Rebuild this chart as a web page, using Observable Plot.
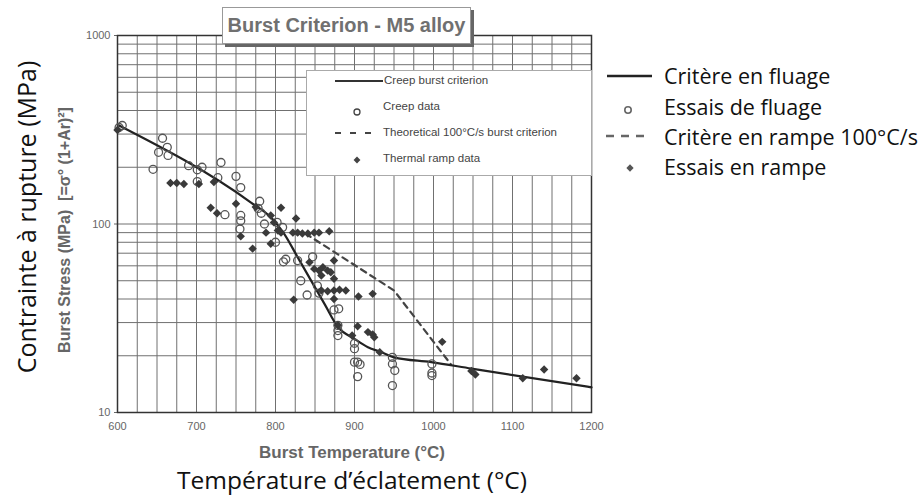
<!DOCTYPE html>
<html><head><meta charset="utf-8">
<script src="https://cdn.jsdelivr.net/npm/d3@7"></script>
<script src="https://cdn.jsdelivr.net/npm/@observablehq/plot@0.6"></script>
<style>
body{margin:0;background:#fff;}
#wrap{position:relative;width:922px;height:497px;overflow:hidden;font-family:"Liberation Sans",Arial,sans-serif;background:#fff;}
#chart{position:absolute;left:0;top:0;}
#overlay{position:absolute;left:0;top:0;}
.abs{position:absolute;white-space:nowrap;line-height:1;}
.box{position:absolute;background:#fff;}
.en{color:#444;font-size:11.5px;}
.fr{font-family:"Open Sans",sans-serif;font-size:21.5px;color:#111;}
</style></head><body>
<div id="wrap">
  <div id="chart"></div>
  <div class="box" style="left:306px;top:70px;width:284px;height:104px;border:1px solid #aaa;"></div>
  <div class="box" style="left:222px;top:7px;width:247px;height:35px;border:1px solid #999;box-shadow:3px 3px 0 #666;display:flex;align-items:center;justify-content:center;">
    <span style="font-weight:bold;font-size:20px;color:#707070;">Burst Criterion - M5 alloy</span>
  </div>
  <svg id="overlay" width="922" height="497"></svg>
  <div class="abs en" style="left:384px;top:75px;">Creep burst criterion</div>
  <div class="abs en" style="left:383px;top:101px;">Creep data</div>
  <div class="abs en" style="left:383px;top:127px;">Theoretical 100°C/s burst criterion</div>
  <div class="abs en" style="left:383px;top:153px;">Thermal ramp data</div>

  <div class="abs fr" style="left:664px;top:65px;">Critère en fluage</div>
  <div class="abs fr" style="left:664px;top:96px;">Essais de fluage</div>
  <div class="abs fr" style="left:664px;top:126px;">Critère en rampe 100°C/s</div>
  <div class="abs fr" style="left:664px;top:156px;">Essais en rampe</div>

  <div class="abs" style="left:352px;top:452px;transform:translate(-50%,-50%);font-weight:bold;font-size:17px;color:#666;">Burst Temperature (°C)</div>
  <div class="abs fr" style="left:352px;top:480px;transform:translate(-50%,-50%);font-size:24.5px;">Température d’éclatement (°C)</div>
  <div class="abs" style="left:65px;top:230px;transform:translate(-50%,-50%) rotate(-90deg);font-weight:bold;font-size:16px;color:#666;">Burst Stress (MPa)&nbsp; [=σ° (1+Ar)²]</div>
  <div class="abs fr" style="left:26px;top:217px;transform:translate(-50%,-50%) rotate(-90deg);font-size:25px;">Contrainte à rupture (MPa)</div>
</div>
<script>
// Axis ticks and grid
const xTicks = [600, 700, 800, 900, 1000, 1100, 1200];
const yTicks = [10, 100, 1000];
const xGrid = [600,625,650,675,700,725,750,775,800,825,850,875,900,925,950,975,1000,1025,1050,1075,1100,1125,1150,1175,1200];
const yGrid = [10,20,30,40,50,60,70,80,90,100,200,300,400,500,600,700,800,900,1000];

// Creep burst criterion (solid line)
const critTemp   = [602, 769, 794, 811, 828, 862, 879, 900, 917, 934, 950, 997, 1048, 1200];
const critStress = [333, 130, 108.6, 88.7, 66.7, 37.7, 28.4, 24.6, 22.2, 20.9, 19.6, 18.5, 17.1, 13.6];

// Theoretical 100°C/s burst criterion (dashed line)
const rampCritTemp   = [838, 950, 1022];
const rampCritStress = [89, 44.4, 18];

// Creep data (open circles)
const creepTemp = [602,606,657,663,652,664,645,690,701,707,731,727,750,756,701,780,778,782,786,756,756,755,736,802,809,800,810,813,828,847,832,840,853,855,874,880,879,879,879,900,900,900,904,907,904,948,948,951,948,998,998,998];
const creepStress = [325,333,285,255,240,231,195,204,194,200,212,176,179,156,168,132,121,114,100,111,104,94,112,102,96,80,63,65,64,67,50,42,47,43,35,35.5,29,27.2,25.6,23.3,21.8,18.5,18.5,18,15.5,19.6,18.1,16.7,13.9,18.1,16.2,15.7];

// Thermal ramp data (diamonds)
const rampTemp = [600,667,675,684,703,722,718,726,750,775,756,771,807,794,788,794,826,822,828,834,841,849,855,868,803,807,798,874,843,849,855,860,866,858,870,874,858,866,874,881,889,874,823,905,923,879,904,917,923,925,897,932,1011,1048,1053,1113,1140,1181];
const rampStress = [315,165,165,163,163,167,122,114,128,123,86,74,122,111,90,78.5,107,90,90,89,89,90,90,91.6,92.4,90,102,64,62.7,57.8,56.6,59,56.6,53.3,55.5,51.2,44.4,44,44.4,44.8,44.4,40,39.6,41.2,42.6,29,28.7,26.7,25.9,25.1,25.6,20.9,23.7,16.6,15.9,15.2,16.9,15.2];

const crit = critTemp.map((t, i) => ({t, s: critStress[i]}));
const rampCrit = rampCritTemp.map((t, i) => ({t, s: rampCritStress[i]}));
const creep = creepTemp.map((t, i) => ({t, s: creepStress[i]}));
const ramp = rampTemp.map((t, i) => ({t, s: rampStress[i]}));

const chart = Plot.plot({
  width: 922, height: 497,
  marginLeft: 117, marginRight: 331, marginTop: 35, marginBottom: 85,
  style: {fontFamily: "Liberation Sans, Arial, sans-serif", fontSize: "11px", color: "#666", background: "#fff"},
  x: {domain: [600, 1200], ticks: xTicks, tickSize: 0, tickPadding: 10, tickFormat: d => String(d), label: null},
  y: {type: "log", domain: [10, 1000], ticks: yTicks, tickSize: 3, tickPadding: 4, tickFormat: d => String(d), label: null},
  marks: [
    Plot.ruleX(xGrid, {stroke: "#707070", strokeWidth: 1}),
    Plot.ruleY(yGrid, {stroke: "#707070", strokeWidth: 1}),
    Plot.frame({stroke: "#333", strokeWidth: 1.5}),
    Plot.line(rampCrit, {x: "t", y: "s", stroke: "#444", strokeWidth: 2.2, strokeDasharray: "6,5"}),
    Plot.line(crit, {x: "t", y: "s", stroke: "#222", strokeWidth: 2.2, curve: "monotone-x"}),
    Plot.dot(creep, {x: "t", y: "s", r: 4, stroke: "#555", strokeWidth: 1.3, fill: "none"}),
    Plot.dot(ramp, {x: "t", y: "s", symbol: "diamond2", r: 3.8, fill: "#3a3a3a", stroke: "none"})
  ]
});
document.getElementById("chart").appendChild(chart);

// Legend symbols (overlay)
const ov = d3.select("#overlay");
// inner (English) legend
ov.append("line").attr("x1", 335).attr("x2", 383).attr("y1", 81).attr("y2", 81).attr("stroke", "#333").attr("stroke-width", 2);
ov.append("circle").attr("cx", 357).attr("cy", 112).attr("r", 3).attr("fill", "none").attr("stroke", "#444").attr("stroke-width", 1.3);
ov.append("line").attr("x1", 335).attr("x2", 373).attr("y1", 133).attr("y2", 133).attr("stroke", "#444").attr("stroke-width", 2).attr("stroke-dasharray", "6,9");
ov.append("path").attr("d", d3.symbol(d3.symbolDiamond2, 30)()).attr("transform", "translate(357,160)").attr("fill", "#444");
// outer (French) legend
ov.append("line").attr("x1", 607).attr("x2", 652).attr("y1", 76).attr("y2", 76).attr("stroke", "#222").attr("stroke-width", 2.5);
ov.append("circle").attr("cx", 628).attr("cy", 110).attr("r", 3.2).attr("fill", "none").attr("stroke", "#666").attr("stroke-width", 1.6);
ov.append("line").attr("x1", 606).attr("x2", 644).attr("y1", 136).attr("y2", 136).attr("stroke", "#666").attr("stroke-width", 2.5).attr("stroke-dasharray", "8,7");
ov.append("path").attr("d", d3.symbol(d3.symbolDiamond2, 34)()).attr("transform", "translate(630,168)").attr("fill", "#555");
</script>
</body></html>
